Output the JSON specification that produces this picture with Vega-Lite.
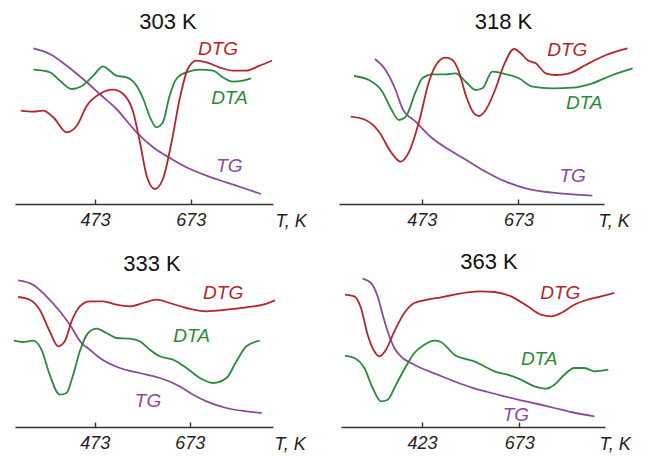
{
  "$schema": "https://vega.github.io/schema/vega-lite/v6.json",
  "padding": {"left": 10, "top": 11, "right": 5, "bottom": 5},
  "config": {
    "view": {"stroke": null},
    "font": "Liberation Sans",
    "title": {"fontSize": 22, "fontWeight": "normal", "font": "Liberation Sans", "color": "#111", "offset": 1, "anchor": "middle", "frame": "group"},
    "axisX": {
      "grid": false, "domainColor": "#333", "domainWidth": 1.6,
      "tickColor": "#333", "tickWidth": 1.4, "tickSize": -5,
      "labelFont": "Liberation Sans", "labelFontStyle": "italic", "labelFontSize": 18, "labelColor": "#222", "labelPadding": 12,
      "titleFont": "Liberation Sans", "titleFontStyle": "italic", "titleFontWeight": "normal", "titleFontSize": 18, "titleColor": "#222",
      "titleAlign": "left", "titleBaseline": "alphabetic", "titleY": 22
    },
    "line": {"strokeWidth": 1.8, "interpolate": "monotone"},
    "text": {"font": "Liberation Sans", "fontStyle": "italic", "fontSize": 19, "align": "center", "baseline": "middle"}
  },
  "datasets": {
    "c1": [
      {"s": "TG", "T": 344.5, "v": 155.7}, {"s": "TG", "T": 379, "v": 150}, {"s": "TG", "T": 414, "v": 138.3}, {"s": "TG", "T": 456, "v": 121.7},
      {"s": "TG", "T": 483, "v": 110}, {"s": "TG", "T": 518, "v": 95}, {"s": "TG", "T": 560, "v": 71.7}, {"s": "TG", "T": 594.5, "v": 56.7},
      {"s": "TG", "T": 633, "v": 45}, {"s": "TG", "T": 664, "v": 36.7}, {"s": "TG", "T": 706, "v": 28.3}, {"s": "TG", "T": 747, "v": 21.7},
      {"s": "TG", "T": 789, "v": 15}, {"s": "TG", "T": 820, "v": 10},
      {"s": "DTA", "T": 344.5, "v": 134.3}, {"s": "DTA", "T": 379, "v": 131.7}, {"s": "DTA", "T": 400, "v": 123.3}, {"s": "DTA", "T": 424, "v": 115},
      {"s": "DTA", "T": 449, "v": 119}, {"s": "DTA", "T": 469.5, "v": 128.3}, {"s": "DTA", "T": 490, "v": 137.7}, {"s": "DTA", "T": 504, "v": 133.3},
      {"s": "DTA", "T": 518, "v": 128.3}, {"s": "DTA", "T": 539, "v": 126.7}, {"s": "DTA", "T": 560, "v": 118.3}, {"s": "DTA", "T": 574, "v": 105},
      {"s": "DTA", "T": 588, "v": 86.7}, {"s": "DTA", "T": 601.5, "v": 76.7}, {"s": "DTA", "T": 615, "v": 81.7}, {"s": "DTA", "T": 629, "v": 108.3},
      {"s": "DTA", "T": 643, "v": 125}, {"s": "DTA", "T": 664, "v": 131.7}, {"s": "DTA", "T": 692, "v": 134.3}, {"s": "DTA", "T": 719.5, "v": 133.3},
      {"s": "DTA", "T": 740, "v": 126.7}, {"s": "DTA", "T": 761, "v": 122.3}, {"s": "DTA", "T": 782, "v": 123.3}, {"s": "DTA", "T": 799, "v": 125.7},
      {"s": "DTG", "T": 318, "v": 93.3}, {"s": "DTG", "T": 344.5, "v": 92.3}, {"s": "DTG", "T": 365, "v": 93.3}, {"s": "DTG", "T": 386, "v": 86.7},
      {"s": "DTG", "T": 414, "v": 71.7}, {"s": "DTG", "T": 435, "v": 78.3}, {"s": "DTG", "T": 456, "v": 98.3}, {"s": "DTG", "T": 483, "v": 110},
      {"s": "DTG", "T": 511, "v": 114.3}, {"s": "DTG", "T": 532, "v": 110}, {"s": "DTG", "T": 553, "v": 91.7}, {"s": "DTG", "T": 567, "v": 61.7},
      {"s": "DTG", "T": 581, "v": 28.3}, {"s": "DTG", "T": 598, "v": 15}, {"s": "DTG", "T": 615, "v": 25}, {"s": "DTG", "T": 633, "v": 61.7},
      {"s": "DTG", "T": 650, "v": 105}, {"s": "DTG", "T": 667, "v": 135}, {"s": "DTG", "T": 685, "v": 143.3}, {"s": "DTG", "T": 706, "v": 141.7},
      {"s": "DTG", "T": 733, "v": 136.7}, {"s": "DTG", "T": 761, "v": 133.3}, {"s": "DTG", "T": 789, "v": 133.3}, {"s": "DTG", "T": 817, "v": 138.3},
      {"s": "DTG", "T": 843, "v": 143.3}
    ],
    "l1": [
      {"s": "DTG", "T": 730, "v": 155}, {"s": "DTA", "T": 754, "v": 105.7}, {"s": "TG", "T": 754, "v": 38.3}
    ],
    "c2": [
      {"s": "TG", "T": 376.4, "v": 145}, {"s": "TG", "T": 398.5, "v": 134}, {"s": "TG", "T": 419, "v": 114}, {"s": "TG", "T": 433, "v": 95.7},
      {"s": "TG", "T": 460.6, "v": 82.3}, {"s": "TG", "T": 495, "v": 65.7}, {"s": "TG", "T": 536.5, "v": 52.3}, {"s": "TG", "T": 571, "v": 42.3},
      {"s": "TG", "T": 605.4, "v": 32.3}, {"s": "TG", "T": 647, "v": 22.3}, {"s": "TG", "T": 688, "v": 15.7}, {"s": "TG", "T": 743, "v": 11.3},
      {"s": "TG", "T": 826, "v": 8.3},
      {"s": "DTA", "T": 333, "v": 128}, {"s": "DTA", "T": 364, "v": 124}, {"s": "DTA", "T": 391.6, "v": 112.3}, {"s": "DTA", "T": 409, "v": 95.7},
      {"s": "DTA", "T": 426, "v": 84}, {"s": "DTA", "T": 440, "v": 87.3}, {"s": "DTA", "T": 460.6, "v": 112.3}, {"s": "DTA", "T": 474.4, "v": 125.7},
      {"s": "DTA", "T": 495, "v": 129.7}, {"s": "DTA", "T": 522.7, "v": 129.7}, {"s": "DTA", "T": 543, "v": 130.7}, {"s": "DTA", "T": 564, "v": 122.3},
      {"s": "DTA", "T": 585, "v": 114}, {"s": "DTA", "T": 598.5, "v": 115.7}, {"s": "DTA", "T": 619, "v": 132.3}, {"s": "DTA", "T": 640, "v": 130.7},
      {"s": "DTA", "T": 674, "v": 125.7}, {"s": "DTA", "T": 702, "v": 117.3}, {"s": "DTA", "T": 743, "v": 115.7}, {"s": "DTA", "T": 785, "v": 116.3},
      {"s": "DTA", "T": 826, "v": 120.7}, {"s": "DTA", "T": 867.5, "v": 129}, {"s": "DTA", "T": 909, "v": 135.7},
      {"s": "DTG", "T": 326, "v": 87.3}, {"s": "DTG", "T": 357, "v": 84}, {"s": "DTG", "T": 384.7, "v": 72.3}, {"s": "DTG", "T": 409, "v": 52.3},
      {"s": "DTG", "T": 429.5, "v": 42.3}, {"s": "DTG", "T": 447, "v": 52.3}, {"s": "DTG", "T": 467.5, "v": 82.3}, {"s": "DTG", "T": 488, "v": 122.3},
      {"s": "DTG", "T": 505, "v": 140.7}, {"s": "DTG", "T": 522.7, "v": 146.3}, {"s": "DTG", "T": 536.5, "v": 144}, {"s": "DTG", "T": 550, "v": 132.3},
      {"s": "DTG", "T": 564, "v": 109}, {"s": "DTG", "T": 581, "v": 90.7}, {"s": "DTG", "T": 591.6, "v": 88}, {"s": "DTG", "T": 605.4, "v": 94},
      {"s": "DTG", "T": 626, "v": 115.7}, {"s": "DTG", "T": 643, "v": 139}, {"s": "DTG", "T": 664, "v": 155}, {"s": "DTG", "T": 678, "v": 150.7},
      {"s": "DTG", "T": 691.6, "v": 144}, {"s": "DTG", "T": 709, "v": 140.7}, {"s": "DTG", "T": 729.6, "v": 130.7}, {"s": "DTG", "T": 750, "v": 129},
      {"s": "DTG", "T": 778, "v": 130.7}, {"s": "DTG", "T": 812, "v": 139}, {"s": "DTG", "T": 854, "v": 149}, {"s": "DTG", "T": 898.5, "v": 155.7}
    ],
    "l2": [
      {"s": "DTG", "T": 774, "v": 154}, {"s": "DTA", "T": 809, "v": 100.7}, {"s": "TG", "T": 785, "v": 28.3}
    ],
    "c3": [
      {"s": "TG", "T": 311.6, "v": 146.7}, {"s": "TG", "T": 343, "v": 142.3}, {"s": "TG", "T": 371, "v": 130.7}, {"s": "TG", "T": 399.3, "v": 115.7},
      {"s": "TG", "T": 420.4, "v": 102.3}, {"s": "TG", "T": 445, "v": 84}, {"s": "TG", "T": 462.5, "v": 77.3}, {"s": "TG", "T": 483.5, "v": 69},
      {"s": "TG", "T": 525.6, "v": 59}, {"s": "TG", "T": 567.7, "v": 54}, {"s": "TG", "T": 609.9, "v": 49}, {"s": "TG", "T": 645, "v": 42.3},
      {"s": "TG", "T": 680, "v": 32.3}, {"s": "TG", "T": 708, "v": 25.7}, {"s": "TG", "T": 750, "v": 19}, {"s": "TG", "T": 792, "v": 15.7},
      {"s": "TG", "T": 824, "v": 14},
      {"s": "DTG", "T": 311.6, "v": 130}, {"s": "DTG", "T": 336, "v": 127.3}, {"s": "DTG", "T": 357, "v": 117.3}, {"s": "DTG", "T": 378, "v": 95.7},
      {"s": "DTG", "T": 395.8, "v": 80.7}, {"s": "DTG", "T": 409.8, "v": 85.7}, {"s": "DTG", "T": 424, "v": 105.7}, {"s": "DTG", "T": 441.4, "v": 120.7},
      {"s": "DTG", "T": 462.5, "v": 125.7}, {"s": "DTG", "T": 490.5, "v": 125.7}, {"s": "DTG", "T": 518.6, "v": 122.3}, {"s": "DTG", "T": 546.7, "v": 120.7},
      {"s": "DTG", "T": 574.8, "v": 124}, {"s": "DTG", "T": 602.8, "v": 127.3}, {"s": "DTG", "T": 630.9, "v": 124}, {"s": "DTG", "T": 666, "v": 119},
      {"s": "DTG", "T": 708, "v": 115.7}, {"s": "DTG", "T": 750, "v": 117.3}, {"s": "DTG", "T": 792, "v": 119.7}, {"s": "DTG", "T": 827, "v": 122.3},
      {"s": "DTG", "T": 852, "v": 126.7},
      {"s": "DTA", "T": 302.5, "v": 86.3}, {"s": "DTA", "T": 322, "v": 85}, {"s": "DTA", "T": 343, "v": 86.3}, {"s": "DTA", "T": 360.7, "v": 77.3},
      {"s": "DTA", "T": 378, "v": 52.3}, {"s": "DTA", "T": 399.3, "v": 32.3}, {"s": "DTA", "T": 413.3, "v": 34}, {"s": "DTA", "T": 427.4, "v": 52.3},
      {"s": "DTA", "T": 441.4, "v": 75.7}, {"s": "DTA", "T": 459, "v": 94}, {"s": "DTA", "T": 476.5, "v": 98.3}, {"s": "DTA", "T": 497.6, "v": 94},
      {"s": "DTA", "T": 518.6, "v": 89}, {"s": "DTA", "T": 546.7, "v": 88.3}, {"s": "DTA", "T": 567.7, "v": 85.7}, {"s": "DTA", "T": 588.8, "v": 77.3},
      {"s": "DTA", "T": 609.9, "v": 70.7}, {"s": "DTA", "T": 638, "v": 67.3}, {"s": "DTA", "T": 666, "v": 59}, {"s": "DTA", "T": 694, "v": 49},
      {"s": "DTA", "T": 722, "v": 44}, {"s": "DTA", "T": 750, "v": 49}, {"s": "DTA", "T": 771, "v": 65.7}, {"s": "DTA", "T": 792, "v": 80.7},
      {"s": "DTA", "T": 820, "v": 86.3}
    ],
    "l3": [
      {"s": "DTG", "T": 743, "v": 134}, {"s": "DTA", "T": 676.5, "v": 90.7}, {"s": "TG", "T": 585, "v": 25.7}
    ],
    "c4": [
      {"s": "TG", "T": 270.6, "v": 148.3}, {"s": "TG", "T": 292, "v": 144}, {"s": "TG", "T": 309, "v": 130.7}, {"s": "TG", "T": 322, "v": 112.3},
      {"s": "TG", "T": 334.8, "v": 95.7}, {"s": "TG", "T": 352, "v": 79}, {"s": "TG", "T": 373.3, "v": 69}, {"s": "TG", "T": 394.7, "v": 64},
      {"s": "TG", "T": 420.4, "v": 59}, {"s": "TG", "T": 463.2, "v": 52.3}, {"s": "TG", "T": 506, "v": 45.7}, {"s": "TG", "T": 548.9, "v": 39.7},
      {"s": "TG", "T": 591.7, "v": 35}, {"s": "TG", "T": 634.5, "v": 30.7}, {"s": "TG", "T": 677.3, "v": 26.7}, {"s": "TG", "T": 720, "v": 23},
      {"s": "TG", "T": 763, "v": 19}, {"s": "TG", "T": 805.7, "v": 15}, {"s": "TG", "T": 865.7, "v": 10.7},
      {"s": "DTG", "T": 225.2, "v": 132.3}, {"s": "DTG", "T": 249.2, "v": 130.7}, {"s": "DTG", "T": 266.3, "v": 119}, {"s": "DTG", "T": 283.4, "v": 92.3},
      {"s": "DTG", "T": 300.6, "v": 75.7}, {"s": "DTG", "T": 313.4, "v": 70.7}, {"s": "DTG", "T": 330.5, "v": 77.3}, {"s": "DTG", "T": 352, "v": 95.7},
      {"s": "DTG", "T": 377.6, "v": 114}, {"s": "DTG", "T": 403.3, "v": 124}, {"s": "DTG", "T": 437.6, "v": 127.3}, {"s": "DTG", "T": 471.8, "v": 129.7},
      {"s": "DTG", "T": 506, "v": 132.3}, {"s": "DTG", "T": 540.3, "v": 134.7}, {"s": "DTG", "T": 574.5, "v": 135.7}, {"s": "DTG", "T": 608.8, "v": 135},
      {"s": "DTG", "T": 651.6, "v": 130.7}, {"s": "DTG", "T": 694.4, "v": 120.7}, {"s": "DTG", "T": 728.7, "v": 112.3}, {"s": "DTG", "T": 754.4, "v": 110.7},
      {"s": "DTG", "T": 780, "v": 114}, {"s": "DTG", "T": 814.3, "v": 122.3}, {"s": "DTG", "T": 848.5, "v": 127.3}, {"s": "DTG", "T": 882.8, "v": 130.7},
      {"s": "DTG", "T": 917, "v": 134},
      {"s": "DTA", "T": 225.2, "v": 71.3}, {"s": "DTA", "T": 249.2, "v": 69}, {"s": "DTA", "T": 274.9, "v": 59}, {"s": "DTA", "T": 296.3, "v": 39},
      {"s": "DTA", "T": 317.7, "v": 25.7}, {"s": "DTA", "T": 334.8, "v": 27.3}, {"s": "DTA", "T": 356.2, "v": 42.3}, {"s": "DTA", "T": 382, "v": 60.7},
      {"s": "DTA", "T": 403.3, "v": 74}, {"s": "DTA", "T": 429, "v": 82.3}, {"s": "DTA", "T": 454.7, "v": 86.3}, {"s": "DTA", "T": 471.8, "v": 85},
      {"s": "DTA", "T": 489, "v": 79}, {"s": "DTA", "T": 506, "v": 72.3}, {"s": "DTA", "T": 531.7, "v": 68.3}, {"s": "DTA", "T": 557.4, "v": 65.7},
      {"s": "DTA", "T": 583, "v": 60.7}, {"s": "DTA", "T": 608.8, "v": 55.7}, {"s": "DTA", "T": 643, "v": 52.3}, {"s": "DTA", "T": 677.3, "v": 47.3},
      {"s": "DTA", "T": 711.5, "v": 40.7}, {"s": "DTA", "T": 741.5, "v": 38.3}, {"s": "DTA", "T": 763, "v": 42.3}, {"s": "DTA", "T": 788.6, "v": 52.3},
      {"s": "DTA", "T": 814.3, "v": 59}, {"s": "DTA", "T": 840, "v": 59}, {"s": "DTA", "T": 865.7, "v": 55.7}, {"s": "DTA", "T": 901.6, "v": 57.3}
    ],
    "l4": [
      {"s": "DTG", "T": 778, "v": 134}, {"s": "DTA", "T": 724, "v": 68.3}, {"s": "TG", "T": 664, "v": 12.3}
    ]
  },
  "vconcat": [
    {
      "hconcat": [
        {
          "title": {"text": "303 K", "dx": 24},
          "width": 258, "height": 169,
          "encoding": {
            "x": {"field": "T", "type": "quantitative", "scale": {"domain": [306, 845], "nice": false, "zero": false},
                  "axis": {"values": [473, 673], "title": "T, K", "titleX": 260}},
            "y": {"field": "v", "type": "quantitative", "scale": {"domain": [0, 169], "nice": false}, "axis": null},
            "color": {"field": "s", "type": "nominal", "scale": {"domain": ["DTG", "DTA", "TG"], "range": ["#b3262c", "#2a8a3e", "#8b4a9e"]}, "legend": null}
          },
          "layer": [
            {"data": {"name": "c1"}, "mark": "line", "encoding": {"detail": {"field": "s"}}},
            {"data": {"name": "l1"}, "mark": "text", "encoding": {"text": {"field": "s"}}}
          ]
        },
        {
          "title": {"text": "318 K", "dx": 32},
          "width": 265, "height": 169,
          "encoding": {
            "x": {"field": "T", "type": "quantitative", "scale": {"domain": [302, 850], "nice": false, "zero": false},
                  "axis": {"values": [473, 673], "title": "T, K", "titleX": 259}},
            "y": {"field": "v", "type": "quantitative", "scale": {"domain": [0, 169], "nice": false}, "axis": null},
            "color": {"field": "s", "type": "nominal", "scale": {"domain": ["DTG", "DTA", "TG"], "range": ["#b3262c", "#2a8a3e", "#8b4a9e"]}, "legend": null}
          },
          "layer": [
            {"data": {"name": "c2"}, "mark": "line", "encoding": {"detail": {"field": "s"}}},
            {"data": {"name": "l2"}, "mark": "text", "encoding": {"text": {"field": "s"}}}
          ]
        }
      ],
      "spacing": 32
    },
    {
      "hconcat": [
        {
          "title": {"text": "333 K", "dx": 8},
          "width": 258, "height": 141,
          "encoding": {
            "x": {"field": "T", "type": "quantitative", "scale": {"domain": [305, 848], "nice": false, "zero": false},
                  "axis": {"values": [473, 673], "title": "T, K", "titleX": 259}},
            "y": {"field": "v", "type": "quantitative", "scale": {"domain": [0, 141], "nice": false}, "axis": null},
            "color": {"field": "s", "type": "nominal", "scale": {"domain": ["DTG", "DTA", "TG"], "range": ["#b3262c", "#2a8a3e", "#8b4a9e"]}, "legend": null}
          },
          "layer": [
            {"data": {"name": "c3"}, "mark": "line", "encoding": {"detail": {"field": "s"}}},
            {"data": {"name": "l3"}, "mark": "text", "encoding": {"text": {"field": "s"}}}
          ]
        },
        {
          "title": {"text": "363 K", "dx": 16},
          "width": 264, "height": 141,
          "encoding": {
            "x": {"field": "T", "type": "quantitative", "scale": {"domain": [215, 893], "nice": false, "zero": false},
                  "axis": {"values": [423, 673], "title": "T, K", "titleX": 258}},
            "y": {"field": "v", "type": "quantitative", "scale": {"domain": [0, 141], "nice": false}, "axis": null},
            "color": {"field": "s", "type": "nominal", "scale": {"domain": ["DTG", "DTA", "TG"], "range": ["#b3262c", "#2a8a3e", "#8b4a9e"]}, "legend": null}
          },
          "layer": [
            {"data": {"name": "c4"}, "mark": "line", "encoding": {"detail": {"field": "s"}}},
            {"data": {"name": "l4"}, "mark": "text", "encoding": {"text": {"field": "s"}}}
          ]
        }
      ],
      "spacing": 35
    }
  ],
  "spacing": 21
}
